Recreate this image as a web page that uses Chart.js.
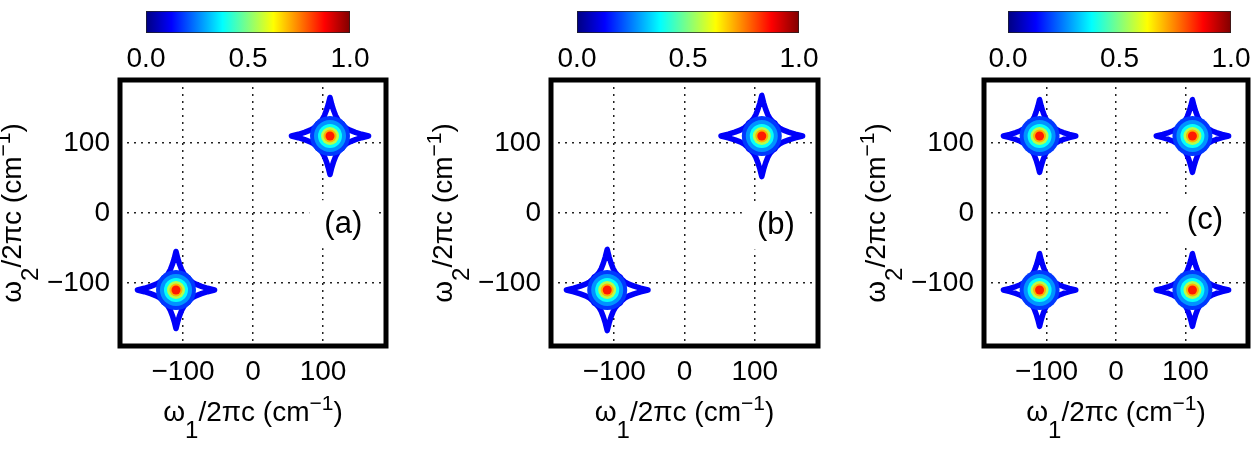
<!DOCTYPE html>
<html>
<head>
<meta charset="utf-8">
<script src="https://cdn.jsdelivr.net/npm/chart.js@4.4.1/dist/chart.umd.min.js"></script>
<style>
  html, body { margin: 0; padding: 0; background: #fff; }
  body { width: 1260px; height: 462px; position: relative; overflow: hidden; }
  canvas { position: absolute; top: 0; }
</style>
</head>
<body>
<canvas id="mainA" width="406" height="462"></canvas>
<canvas id="mainB" width="406" height="462"></canvas>
<canvas id="mainC" width="406" height="462"></canvas>
<canvas id="barA" width="284" height="80"></canvas>
<canvas id="barB" width="302" height="80"></canvas>
<canvas id="barC" width="303" height="80"></canvas>
<script>
  // ---- data ----
  const AXIS_MIN = -190;
  const AXIS_MAX = 190;
  const AXIS_TICKS = [-100, 0, 100];
  const CBAR_TICKS = [0, 0.5, 1];
  const PANEL_TAGS = ["(a)", "(b)", "(c)"];

  // axis titles: [text, 0 normal / -1 subscript / 1 superscript]
  const X_TITLE = [["ω", 0], ["1", -1], ["/2πc (cm", 0], ["−1", 1], [")", 0]];
  const Y_TITLE = [["ω", 0], ["2", -1], ["/2πc (cm", 0], ["−1", 1], [")", 0]];

  // peak centres (w1, w2) in cm-1
  const PEAKS_A = [[110, 110], [-110, -110]];
  const PEAKS_B = [[110, 110], [-110, -110]];
  const PEAKS_C = [[-110, 110], [110, 110], [-110, -110], [110, -110]];

  // half length of the star arms (cm-1)
  const ARM_A = 55;
  const ARM_B = 58;
  const ARM_C = 52;

  // one quadrant of the lowest contour (star), in units of the arm length
  const STAR_QUADRANT = [
    [1, 0], [0.82, 0.045], [0.66, 0.095], [0.53, 0.145], [0.43, 0.2], [0.36, 0.26], [0.32, 0.32],
    [0.26, 0.36], [0.2, 0.43], [0.145, 0.53], [0.095, 0.66], [0.045, 0.82], [0, 1]
  ];
  const OUTLINE_LEVEL = 0.12;
  // inner filled contour levels (normalised intensity)
  const LEVELS = [0.18, 0.27, 0.38, 0.55, 0.7, 0.85];

  // where the panel tags sit (cm-1)
  const TAG_POS = [[129, -16], [130, -18], [128, -10]];

  // ---- styling ----
  const FONT = '"Liberation Sans", Arial, "DejaVu Sans", sans-serif';
  const LEVEL_RADII = [20, 16, 12, 9, 6.5, 4.5];

  // jet colormap
  const jet = (v) => {
    const c = (t) => Math.round(255 * Math.max(0, Math.min(1, t)));
    return `rgb(${c(1.5 - Math.abs(4 * v - 3))},${c(1.5 - Math.abs(4 * v - 2))},${c(1.5 - Math.abs(4 * v - 1))})`;
  };

  // closed star outline from the quadrant (mirrored into all four)
  const starOutline = () => {
    const q1 = STAR_QUADRANT;
    const q2 = q1.slice(1).map(([u, v]) => [-v, u]);
    const q3 = q1.slice(1).map(([u, v]) => [-u, -v]);
    const q4 = q1.slice(1).map(([u, v]) => [v, -u]);
    return q1.concat(q2, q3, q4);
  };

  const minusFmt = (v) => (v < 0 ? "\u2212" + Math.abs(v) : String(v));

  // text with sub/superscripts, centred on cx, baseline at by
  function drawRich(ctx, pieces, cx, by, size) {
    const fontOf = (k) => (k === 0 ? size : Math.round(size * (k < 0 ? 0.85 : 0.75))) + "px " + FONT;
    let total = 0;
    pieces.forEach(([t, k]) => { ctx.font = fontOf(k); total += ctx.measureText(t).width; });
    let x = cx - total / 2;
    ctx.textAlign = "left";
    ctx.textBaseline = "alphabetic";
    pieces.forEach(([t, k]) => {
      ctx.font = fontOf(k);
      const dy = k < 0 ? size * 0.6 : k > 0 ? -size * 0.38 : 0;
      ctx.fillText(t, x, by + dy);
      x += ctx.measureText(t).width;
    });
  }

  // frame round the plot, panel tag, axis titles
  const framePlugin = {
    id: "frame",
    afterDatasetsDraw(chart, args, opts) {
      const { ctx, chartArea: a, scales } = chart;
      const px = scales.x.getPixelForValue(opts.pos[0]);
      const py = scales.y.getPixelForValue(opts.pos[1]);
      ctx.save();
      ctx.fillStyle = "#fff";
      ctx.fillRect(px - 34, py - 24, 68, 48);
      ctx.fillStyle = "#000";
      ctx.font = "31px " + FONT;
      ctx.textAlign = "center";
      ctx.textBaseline = "middle";
      ctx.fillText(opts.text, px, py);
      ctx.lineWidth = 5;
      ctx.strokeStyle = "#000";
      ctx.strokeRect(a.left, a.top, a.width, a.height);

      drawRich(ctx, X_TITLE, (a.left + a.right) / 2, 421, 28);
      ctx.translate(a.left - 99, (a.top + a.bottom) / 2);
      ctx.rotate(-Math.PI / 2);
      drawRich(ctx, Y_TITLE, 0, 0, 28);
      ctx.restore();
    }
  };

  function makePanel(id, left, width, peaks, arm, tag, tagPos) {
    const canvas = document.getElementById(id);
    canvas.style.left = (left - 130) + "px";
    canvas.width = 130 + width + 10;

    const outline = starOutline();
    const datasets = [];

    // the low contour stars
    peaks.forEach(([cx, cy]) => {
      const pts = outline.map(([u, v]) => ({ x: cx + u * arm, y: cy + v * arm }));
      pts.push(pts[0]);
      datasets.push({
        data: pts,
        showLine: true,
        borderColor: jet(OUTLINE_LEVEL),
        borderWidth: 5.5,
        borderJoinStyle: "round",
        borderCapStyle: "round",
        pointRadius: 0,
        fill: false,
        tension: 0,
        order: 100
      });
    });

    // filled contours towards the peak centre
    LEVELS.forEach((lv, i) => {
      datasets.push({
        data: peaks.map(([x, y]) => ({ x, y })),
        showLine: false,
        pointRadius: LEVEL_RADII[i],
        pointBackgroundColor: jet(lv),
        pointBorderWidth: 0,
        order: 50 - i
      });
    });

    const axis = (pos) => ({
      type: "linear",
      position: pos,
      min: AXIS_MIN,
      max: AXIS_MAX,
      afterBuildTicks: (s) => { s.ticks = AXIS_TICKS.map((v) => ({ value: v })); },
      afterFit: (s) => {
        if (pos === "left") s.width = 130;
        else s.height = 116;
        s.paddingLeft = 0; s.paddingRight = 0; s.paddingTop = 0; s.paddingBottom = 0;
      },
      grid: { color: "#222", lineWidth: 1.5, drawTicks: false },
      border: { display: false, dash: [2, 5] },
      ticks: {
        color: "#000",
        padding: pos === "left" ? 10 : 9,
        font: { family: FONT, size: 28 },
        callback: minusFmt,
        maxRotation: 0,
        autoSkip: false
      },
      title: { display: false }
    });

    new Chart(canvas, {
      type: "scatter",
      data: { datasets },
      options: {
        responsive: false,
        animation: false,
        events: [],
        layout: { autoPadding: false, padding: { left: 0, right: 10, top: 80, bottom: 0 } },
        plugins: {
          legend: { display: false },
          tooltip: { enabled: false },
          frame: { text: tag, pos: tagPos }
        },
        scales: { x: axis("bottom"), y: axis("left") }
      },
      plugins: [framePlugin]
    });
  }

  function jetGradient(chart) {
    const a = chart.chartArea;
    if (!a) return "#00f";
    const g = chart.ctx.createLinearGradient(a.left, 0, a.right, 0);
    [0, 0.125, 0.25, 0.375, 0.5, 0.625, 0.75, 0.875, 1].forEach((t) => g.addColorStop(t, jet(t)));
    return g;
  }

  function makeColorbar(id, left, width) {
    const canvas = document.getElementById(id);
    canvas.style.left = (left - 40) + "px";
    canvas.width = width + 80;
    new Chart(canvas, {
      type: "bar",
      data: {
        labels: [""],
        datasets: [{
          data: [[CBAR_TICKS[0], CBAR_TICKS[CBAR_TICKS.length - 1]]],
          backgroundColor: (ctx) => jetGradient(ctx.chart),
          borderColor: "#222",
          borderWidth: 1,
          borderSkipped: false,
          barPercentage: 1,
          categoryPercentage: 1
        }]
      },
      options: {
        indexAxis: "y",
        responsive: false,
        animation: false,
        events: [],
        layout: { autoPadding: false, padding: { left: 40, right: 40, top: 11, bottom: 0 } },
        plugins: { legend: { display: false }, tooltip: { enabled: false } },
        scales: {
          y: { display: false },
          x: {
            min: 0,
            max: 1,
            afterBuildTicks: (s) => { s.ticks = CBAR_TICKS.map((v) => ({ value: v })); },
            afterFit: (s) => { s.height = 47; s.paddingLeft = 0; s.paddingRight = 0; },
            grid: { display: false },
            border: { display: false },
            ticks: {
              color: "#000",
              padding: 1,
              font: { family: FONT, size: 28 },
              callback: (v) => Number(v).toFixed(1),
              maxRotation: 0,
              autoSkip: false
            }
          }
        }
      }
    });
  }

  makePanel("mainA", 120, 266, PEAKS_A, ARM_A, PANEL_TAGS[0], TAG_POS[0]);
  makePanel("mainB", 551, 267, PEAKS_B, ARM_B, PANEL_TAGS[1], TAG_POS[1]);
  makePanel("mainC", 984, 264, PEAKS_C, ARM_C, PANEL_TAGS[2], TAG_POS[2]);

  makeColorbar("barA", 146, 204);
  makeColorbar("barB", 577, 222);
  makeColorbar("barC", 1008, 223);
</script>
</body>
</html>
